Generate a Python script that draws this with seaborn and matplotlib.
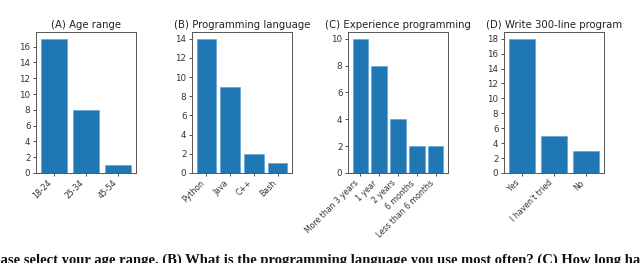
import matplotlib
matplotlib.use("Agg")
import matplotlib.pyplot as plt
from matplotlib.ticker import MultipleLocator
import seaborn as sns
import pandas as pd

sns.set_style("ticks")
plt.rcParams['font.family'] = ['DejaVu Sans']

age_labels = ["18-24", "25-34", "45-54"]
age_values = [17, 8, 1]

lang_labels = ["Python", "Java", "C++", "Bash"]
lang_values = [14, 9, 2, 1]

exp_labels = ["More than 3 years", "1 year", "2 years", "6 months", "Less than 6 months"]
exp_values = [10, 8, 4, 2, 2]

prog_labels = ["Yes", "I haven't tried", "No"]
prog_values = [18, 5, 3]

titles = ["(A) Age range", "(B) Programming language",
          "(C) Experience programming", "(D) Write 300-line program"]

caption = ("(A) Please select your age range. (B) What is the programming language "
           "you use most often? (C) How long have you been programming?")

W, H = 640, 263
fig = plt.figure(figsize=(W / 100, H / 100), dpi=100)

panels = [(age_labels, age_values), (lang_labels, lang_values),
          (exp_labels, exp_values), (prog_labels, prog_values)]
lefts = [36, 192, 348, 504]
for (labels, values), title, left in zip(panels, titles, lefts):
    ax = fig.add_axes([left / W, (H - 173) / H, 100 / W, 141 / H])
    df = pd.DataFrame({"cat": labels, "val": values})
    sns.barplot(data=df, x="cat", y="val", ax=ax, color="#1f77b4",
                saturation=1, width=0.8, edgecolor="#5a9fd4", linewidth=0.4)
    n = len(labels)
    m = 0.05 * (n - 0.2)
    ax.set_xlim(-0.4 - m, n - 0.6 + m)
    ax.set_ylim(0, max(values) * 1.05)
    ax.yaxis.set_major_locator(MultipleLocator(2))
    ax.set_xlabel("")
    ax.set_ylabel("")
    ax.set_title(title, fontsize=7.3, pad=3, color="#222222")
    ax.tick_params(axis="y", labelsize=6.3, length=2.5, width=0.6,
                   pad=1.5, colors="#333333")
    ax.tick_params(axis="x", labelsize=5.6, length=2.5, width=0.6,
                   pad=1.5, colors="#333333")
    ax.set_xticks(range(n))
    ax.set_xticklabels(labels, rotation=45, ha="right")
    for s in ax.spines.values():
        s.set_visible(True)
        s.set_linewidth(0.7)
        s.set_color("#555555")

fig.text(-43 / W, -1 / H, caption, fontsize=10.5, fontweight="bold",
         family="Liberation Serif", ha="left", va="baseline", color="#111111")

fig.savefig("out.png", dpi=100)
